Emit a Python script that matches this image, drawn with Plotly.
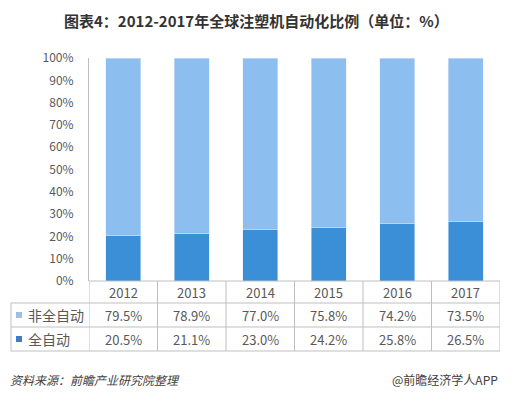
import plotly.graph_objects as go

years = ["2012", "2013", "2014", "2015", "2016", "2017"]
non_auto = [79.5, 78.9, 77.0, 75.8, 74.2, 73.5]
full_auto = [20.5, 21.1, 23.0, 24.2, 25.8, 26.5]
series_names = ["非全自动", "全自动"]
y_ticks = [0, 10, 20, 30, 40, 50, 60, 70, 80, 90, 100]

W, H = 512, 399
OFF = 8  # page body margin
LIGHT = "#8DBEF0"
DARK = "#3B8FD6"
GRID = "#BFBFBF"
TXT = "#595959"
CJK = "Noto Sans CJK SC"

def px(x):
    return (x - OFF) / W

def py(y):
    return 1 - (y - OFF) / H

x0_dom, x1_dom = px(89), px(500)
y_bot, y_top = py(281), py(58)

fig = go.Figure()
fig.add_trace(go.Bar(x=years, y=full_auto, marker_color=DARK, name=series_names[1]))
fig.add_trace(go.Bar(x=years, y=non_auto, marker_color=LIGHT, name=series_names[0]))

fig.update_layout(
    width=W, height=H,
    margin=dict(l=0, r=0, t=0, b=0, pad=0, autoexpand=False),
    paper_bgcolor="white", plot_bgcolor="white",
    barmode="stack", bargap=0.49,
    showlegend=False,
    xaxis=dict(domain=[x0_dom, x1_dom], showticklabels=False, showgrid=False, automargin=False,
               zeroline=False, showline=False, range=[-0.5, 5.5], fixedrange=True),
    yaxis=dict(domain=[y_bot, y_top], range=[0, 100], showgrid=False, zeroline=False, automargin=False,
               tickvals=y_ticks, ticktext=[f"{v}%" for v in y_ticks],
               tickfont=dict(family=CJK, size=12, color=TXT),
               showline=True, linecolor=GRID, linewidth=1,
               ticks="", ticklabelstandoff=12),
    font=dict(family=CJK),
)

shapes = []
line = dict(color=GRID, width=1)
shapes.append(dict(type="line", xref="paper", yref="paper", x0=x0_dom, x1=x1_dom, y0=y_bot, y1=y_bot, line=line))
for yy in (303, 327, 351):
    shapes.append(dict(type="line", xref="paper", yref="paper", x0=px(11), x1=x1_dom, y0=py(yy), y1=py(yy), line=line))
for i in range(len(years) + 1):
    shapes.append(dict(type="line", xref="x", yref="paper", x0=i - 0.5, x1=i - 0.5, y0=py(351), y1=y_bot, line=line))
shapes.append(dict(type="line", xref="paper", yref="paper", x0=px(11), x1=px(11), y0=py(351), y1=py(303), line=line))
shapes.append(dict(type="rect", xref="paper", yref="paper", x0=px(16), x1=px(22), y0=py(318), y1=py(312),
                   fillcolor="#9DBFE3", line=dict(width=0)))
shapes.append(dict(type="rect", xref="paper", yref="paper", x0=px(16), x1=px(22), y0=py(342), y1=py(336),
                   fillcolor="#3F7FBF", line=dict(width=0)))

def note(text, x, y, xref="paper", xanchor="center", size=13, color=TXT):
    return dict(text=text, x=x, y=y, xref=xref, yref="paper", xanchor=xanchor, yanchor="middle",
                showarrow=False, font=dict(family=CJK, size=size, color=color))

ann = []
ann.append(note("<b>图表4：2012-2017年全球注塑机自动化比例（单位：%）</b>", px(256), py(20), size=15, color="#333333"))
for i, yr in enumerate(years):
    ann.append(note(yr, i, py(292), xref="x"))
    ann.append(note(f"{non_auto[i]:.1f}%", i, py(315), xref="x"))
    ann.append(note(f"{full_auto[i]:.1f}%", i, py(339), xref="x"))
ann.append(note(series_names[0], px(26), py(315), xanchor="left", size=14))
ann.append(note(series_names[1], px(26), py(339), xanchor="left", size=14))
ann.append(note("<i>资料来源：前瞻产业研究院整理</i>", 0, py(379), xanchor="left", size=12, color="#404040"))
ann.append(note("@前瞻经济学人APP", px(500), py(379), xanchor="right", size=12, color="#404040"))

fig.update_layout(shapes=shapes, annotations=ann)
fig.write_html("out.html")
